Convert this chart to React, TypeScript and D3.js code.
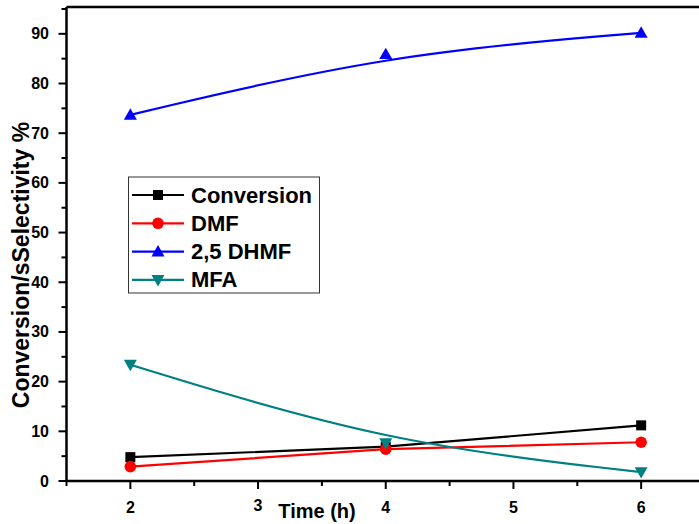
import React from "react";
import * as d3 from "d3";

const times = [2, 4, 6];
const conversion = [4.8, 6.9, 11.2];
const dmf = [2.9, 6.4, 7.8];
const dhmf = [73.7, 85.9, 90.2];
const mfa = [23.4, 7.6, 1.8];
const xTicks = [2, 3, 4, 5, 6];
const yTicks = [0, 10, 20, 30, 40, 50, 60, 70, 80, 90];
const seriesNames = ["Conversion", "DMF", "2,5 DHMF", "MFA"];

const W = 699, H = 524;
const left = 66.5, right = 705, top = 7, bottom = 481;

export default function App() {
  const x = d3.scaleLinear().domain([1.5, 6.5]).range([left, right]);
  const y = d3.scaleLinear().domain([0, 95.4]).range([bottom, top]);
  const font = "'Liberation Sans', Arial, sans-serif";

  const series = [
    { name: seriesNames[0], vals: conversion, color: "#000000", curve: d3.curveLinear, marker: "square" },
    { name: seriesNames[1], vals: dmf, color: "#ff0000", curve: d3.curveLinear, marker: "circle" },
    { name: seriesNames[2], vals: dhmf, color: "#0000ff", curve: d3.curveBasis, marker: "up" },
    { name: seriesNames[3], vals: mfa, color: "#008080", curve: d3.curveBasis, marker: "down" },
  ];

  const marker = (type: string, cx: number, cy: number, color: string, key: string) => {
    if (type === "square") return <rect key={key} x={cx - 5} y={cy - 5} width={10} height={10} fill={color} />;
    if (type === "circle") return <circle key={key} cx={cx} cy={cy} r={5.8} fill={color} />;
    const s = 6.5;
    if (type === "up")
      return <path key={key} d={`M${cx},${cy - s}L${cx + s},${cy + s * 0.75}L${cx - s},${cy + s * 0.75}Z`} fill={color} />;
    return <path key={key} d={`M${cx},${cy + s}L${cx + s},${cy - s * 0.75}L${cx - s},${cy - s * 0.75}Z`} fill={color} />;
  };

  const xMinor = d3.range(1.5, 6.51, 0.5).filter((v) => !Number.isInteger(v));
  const yMinor = d3.range(5, 96, 10);

  const legX = 128.5, legY = 177;
  const rowH = 28.3;

  return (
    <svg width={W} height={H} style={{ position: "absolute", left: 0, top: 0, background: "#fff" }}>
      <rect width={W} height={H} fill="#fff" />
      {series.map((s) => {
        const line = d3
          .line<number>()
          .x((_, i) => x(times[i]))
          .y((d) => y(d))
          .curve(s.curve);
        return <path key={s.name} d={line(s.vals) || ""} fill="none" stroke={s.color} strokeWidth={2.2} />;
      })}
      {series.map((s) => s.vals.map((v, i) => marker(s.marker, x(times[i]), y(v), s.color, s.name + i)))}
      <line x1={left} x2={W} y1={top} y2={top} stroke="#000" strokeWidth={2.5} />
      <line x1={left} x2={left} y1={top} y2={bottom} stroke="#000" strokeWidth={2.5} />
      <line x1={left} x2={W} y1={bottom} y2={bottom} stroke="#000" strokeWidth={2.5} />
      {yTicks.map((t) => (
        <g key={"y" + t}>
          <line x1={left - 8} x2={left} y1={y(t)} y2={y(t)} stroke="#000" strokeWidth={2} />
          <text x={49} y={y(t) + 5.5} textAnchor="end" fontFamily={font} fontWeight="bold" fontSize={16}>
            {t}
          </text>
        </g>
      ))}
      {yMinor.map((t) => (
        <line key={"ym" + t} x1={left - 5} x2={left} y1={y(t)} y2={y(t)} stroke="#000" strokeWidth={2} />
      ))}
      {xTicks.map((t) => (
        <g key={"x" + t}>
          <line x1={x(t)} x2={x(t)} y1={bottom} y2={bottom + 8} stroke="#000" strokeWidth={2} />
          <text x={x(t)} y={t === 3 ? 511 : 513} textAnchor="middle" fontFamily={font} fontWeight="bold" fontSize={16}>
            {t}
          </text>
        </g>
      ))}
      {xMinor.map((t) => (
        <line key={"xm" + t} x1={x(t)} x2={x(t)} y1={bottom} y2={bottom + 5} stroke="#000" strokeWidth={2} />
      ))}
      <text x={317} y={518} textAnchor="middle" fontFamily={font} fontWeight="bold" fontSize={20}>
        Time (h)
      </text>
      <text
        transform={`translate(29,265) rotate(-90)`}
        textAnchor="middle"
        fontFamily={font}
        fontWeight="bold"
        fontSize={23}
      >
        Conversion/sSelectivity %
      </text>
      <rect x={legX} y={legY} width={191} height={116} fill="#fff" stroke="#333" strokeWidth={1} />
      {series.map((s, i) => {
        const cy = 195 + i * rowH;
        return (
          <g key={"leg" + s.name}>
            <line x1={132} x2={184} y1={cy} y2={cy} stroke={s.color} strokeWidth={2.2} />
            {marker(s.marker, 158, cy, s.color, "lm" + i)}
            <text x={191} y={cy + 7.5} fontFamily={font} fontWeight="bold" fontSize={22}>
              {s.name}
            </text>
          </g>
        );
      })}
    </svg>
  );
}
